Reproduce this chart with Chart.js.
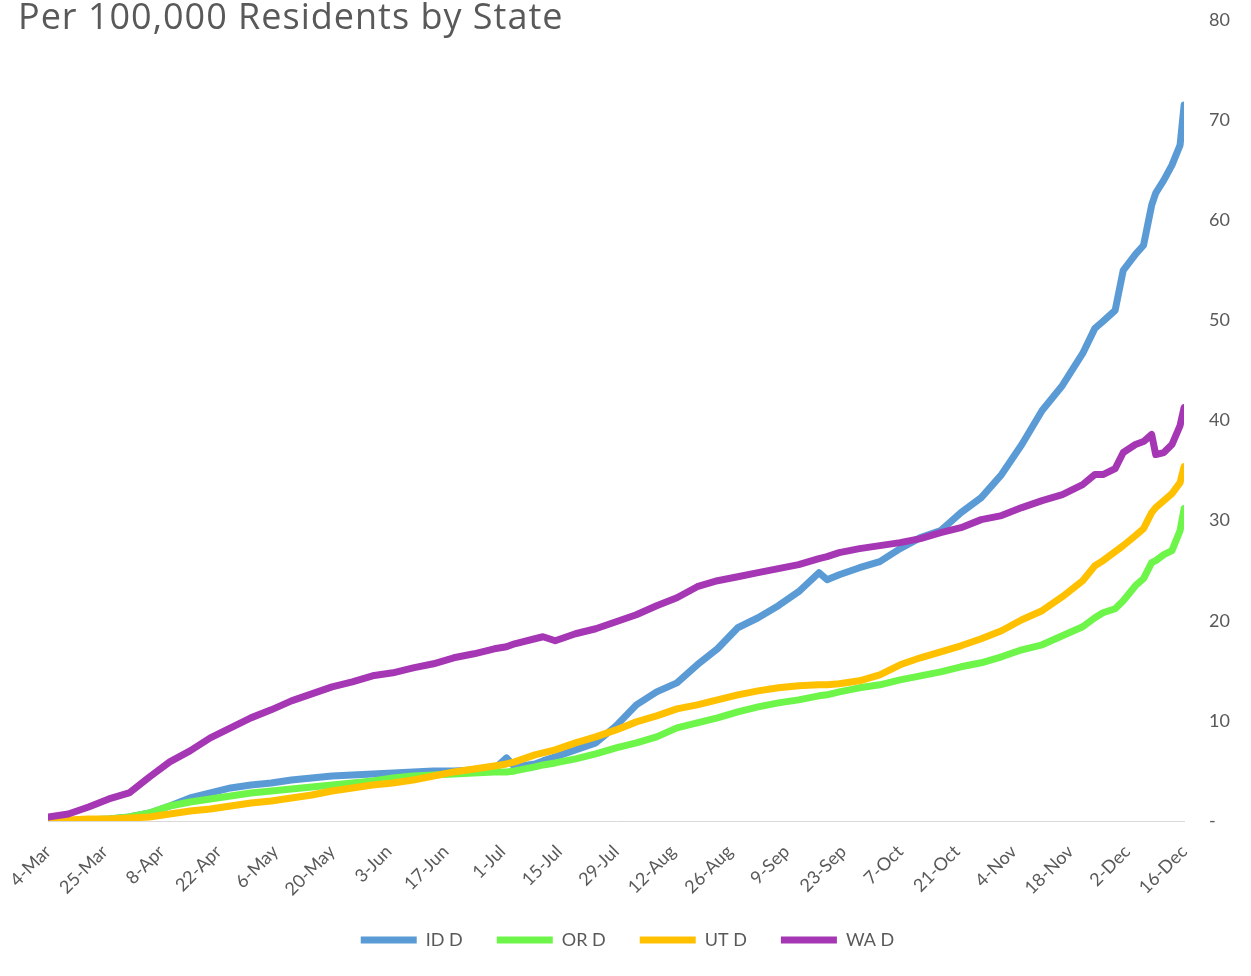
<!DOCTYPE html>
<html>
<head>
<meta charset="utf-8">
<script src="https://cdn.jsdelivr.net/npm/chart.js@4.4.1/dist/chart.umd.min.js"></script>
<style>
  html, body { margin: 0; padding: 0; background: #fff; overflow: hidden; }
  #wrap { position: relative; width: 1251px; height: 976px; }
  #title {
    position: absolute; left: 18px; top: -4px;
    font-family: "Open Sans", sans-serif; font-size: 36px; line-height: 40px; letter-spacing: 1px;
    color: #595959; white-space: nowrap;
  }
</style>
</head>
<body>
<div id="wrap">
  <canvas id="deathsChart"></canvas>
  <div id="title">Per 100,000 Residents by State</div>
</div>
<script>
// x positions: 0 = 4-Mar, 14 = 25-Mar, then one step per day up to 16-Dec
const tickLabels = ['4-Mar', '25-Mar', '8-Apr', '22-Apr', '6-May', '20-May', '3-Jun', '17-Jun', '1-Jul', '15-Jul',
    '29-Jul', '12-Aug', '26-Aug', '9-Sep', '23-Sep', '7-Oct', '21-Oct', '4-Nov', '18-Nov', '2-Dec', '16-Dec'];

const days = [0, 5, 10, 15, 20, 25, 30, 35, 40, 45, 50, 55, 60, 65, 70, 75, 80, 85, 90, 95, 100, 105, 110, 113,
    115, 120, 122, 125, 130, 135, 140, 145, 150, 155, 160, 165, 170, 175, 180, 185, 190, 192, 195, 200, 205, 210,
    215, 220, 225, 230, 235, 240, 245, 250, 255, 258, 260, 263, 265, 268, 270, 272, 273, 275, 277, 279, 280];

const idVals = [0, 0, 0.1, 0.2, 0.4, 0.8, 1.5, 2.3, 2.8, 3.3, 3.6, 3.8, 4.1, 4.3, 4.5, 4.6, 4.7, 4.8, 4.9, 5.0, 5.0, 5.1, 5.2, 6.3,
    5.4, 5.7, 6.0, 6.4, 7.1, 7.8, 9.5, 11.6, 12.9, 13.8, 15.6, 17.2, 19.3, 20.3, 21.5, 22.9, 24.8, 24.1, 24.6, 25.3, 25.9, 27.2,
    28.3, 29.0, 30.8, 32.3, 34.6, 37.6, 41.0, 43.5, 46.7, 49.2, 49.9, 51.0, 55.0, 56.6, 57.5, 61.5, 62.7, 64.0, 65.5, 67.5, 71.5];

const orVals = [0, 0, 0.1, 0.2, 0.4, 0.8, 1.5, 1.9, 2.2, 2.5, 2.8, 3.0, 3.2, 3.4, 3.6, 3.8, 4.0, 4.3, 4.5, 4.6, 4.7, 4.8, 4.9, 4.9,
    5.0, 5.4, 5.6, 5.8, 6.2, 6.7, 7.3, 7.8, 8.4, 9.3, 9.8, 10.3, 10.9, 11.4, 11.8, 12.1, 12.5, 12.6, 12.9, 13.3, 13.6, 14.1,
    14.5, 14.9, 15.4, 15.8, 16.4, 17.1, 17.6, 18.5, 19.4, 20.3, 20.8, 21.2, 22.0, 23.5, 24.2, 25.8, 26.0, 26.6, 27.0, 29.0, 31.2];

const utVals = [0, 0.1, 0.2, 0.2, 0.3, 0.4, 0.7, 1.0, 1.2, 1.5, 1.8, 2.0, 2.3, 2.6, 3.0, 3.3, 3.6, 3.8, 4.1, 4.5, 4.9, 5.2, 5.5, 5.7,
    5.9, 6.6, 6.8, 7.1, 7.8, 8.4, 9.1, 9.9, 10.5, 11.2, 11.6, 12.1, 12.6, 13.0, 13.3, 13.5, 13.6, 13.6, 13.7, 14.0, 14.6, 15.6,
    16.3, 16.9, 17.5, 18.2, 19.0, 20.1, 21.0, 22.4, 24.0, 25.5, 26.0, 26.9, 27.5, 28.5, 29.2, 30.8, 31.3, 32.0, 32.7, 33.8, 35.4];

const waVals = [0.4, 0.7, 1.4, 2.2, 2.8, 4.4, 5.9, 7.0, 8.3, 9.3, 10.3, 11.1, 12.0, 12.7, 13.4, 13.9, 14.5, 14.8, 15.3, 15.7, 16.3, 16.7, 17.2, 17.4,
    17.7, 18.2, 18.4, 18.0, 18.7, 19.2, 19.9, 20.6, 21.5, 22.3, 23.4, 24.0, 24.4, 24.8, 25.2, 25.6, 26.2, 26.4, 26.8, 27.2, 27.5, 27.8,
    28.2, 28.8, 29.3, 30.1, 30.5, 31.3, 32.0, 32.6, 33.6, 34.6, 34.6, 35.2, 36.8, 37.6, 37.9, 38.6, 36.6, 36.8, 37.6, 39.5, 41.3];

const seriesNames = ['ID D', 'OR D', 'UT D', 'WA D'];
const seriesColors = ['#5B9BD5', '#6EF54A', '#FFC000', '#A637B4'];

function points(vals) {
    return days.map((d, i) => ({ x: d, y: vals[i] }));
}

document.addEventListener("DOMContentLoaded", function() {
    const ctx = document.getElementById('deathsChart').getContext('2d');
    const allVals = [idVals, orVals, utVals, waVals];

    new Chart(ctx, {
        type: 'line',
        data: {
            datasets: allVals.map((vals, i) => ({
                label: seriesNames[i],
                data: points(vals),
                borderColor: seriesColors[i],
                backgroundColor: seriesColors[i],
                borderWidth: 7,
                borderCapStyle: 'round',
                borderJoinStyle: 'round',
                pointRadius: 0,
                tension: 0,
                order: 4 - i
            }))
        },
        options: {
            responsive: true,
            maintainAspectRatio: false,
            animation: false,
            layout: { padding: { left: 0, right: -4, top: 20, bottom: 17 } },
            scales: {
                x: {
                    type: 'linear',
                    min: 0,
                    max: 280,
                    grid: { display: false, drawTicks: false },
                    border: { display: true, color: '#D9D9D9', width: 1 },
                    ticks: {
                        stepSize: 14,
                        autoSkip: false,
                        minRotation: 45,
                        maxRotation: 45,
                        padding: 20,
                        color: '#595959',
                        font: { family: 'Lato', size: 18 },
                        callback: v => tickLabels[v / 14]
                    },
                    afterFit: scale => { scale.paddingLeft = 48; scale.height = 76; }
                },
                y: {
                    position: 'right',
                    min: 0,
                    max: 80,
                    grid: { display: false, drawTicks: false },
                    border: { display: false },
                    ticks: {
                        stepSize: 10,
                        padding: 25,
                        color: '#595959',
                        font: { family: 'Lato', size: 18 },
                        callback: v => v === 0 ? '-' : v
                    },
                    afterFit: scale => { scale.paddingTop = 10; scale.paddingBottom = 10; }
                }
            },
            plugins: {
                tooltip: { enabled: false },
                legend: {
                    position: 'bottom',
                    labels: {
                        usePointStyle: true,
                        pointStyle: 'line',
                        pointStyleWidth: 56,
                        boxHeight: 8,
                        padding: 34,
                        color: '#595959',
                        font: { family: 'Lato', size: 18 },
                        sort: (a, b) => a.datasetIndex - b.datasetIndex
                    }
                }
            }
        }
    });
});
</script>
</body>
</html>
